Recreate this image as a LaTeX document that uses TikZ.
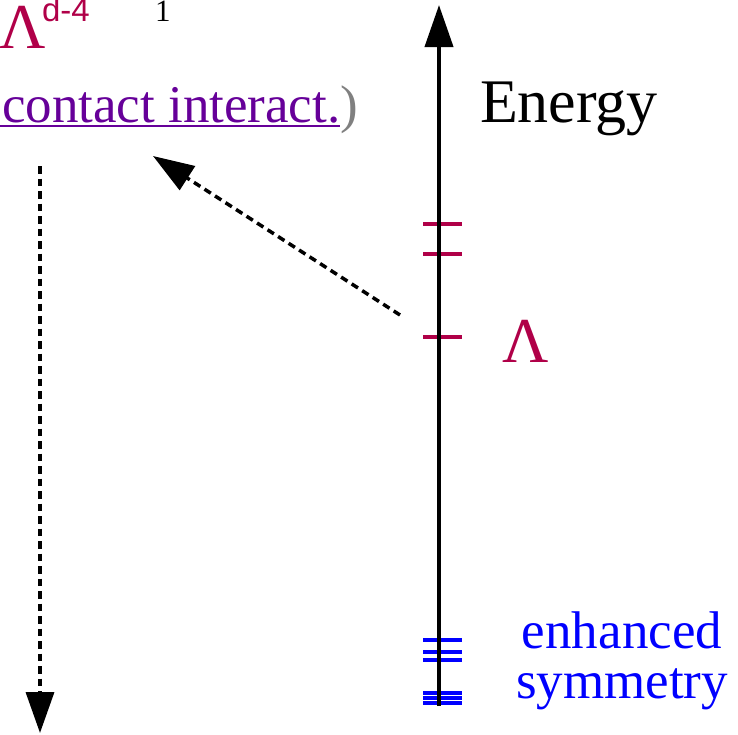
\documentclass[tikz,border=0pt]{standalone}
\usepackage{fontspec}
\setmainfont{Liberation Serif}
\setsansfont{Liberation Sans}
\usetikzlibrary{arrows.meta,calc}
\definecolor{crim}{RGB}{176,0,72}
\definecolor{lpurple}{RGB}{102,0,153}
\definecolor{pgray}{RGB}{128,128,128}
\definecolor{eblue}{RGB}{0,0,255}
\begin{document}
\begin{tikzpicture}[x=1pt,y=-1pt,
  txt/.style={inner sep=0pt,outer sep=0pt,anchor=base west},
  axisline/.style={line width=4pt,-{Triangle[length=42pt,width=28pt]}},
  dasharrow/.style={line width=3.5pt,dash pattern=on 7.5pt off 5pt,-{Triangle[length=41pt,width=28pt]}},
  redtick/.style={crim,line width=4pt},
  bluetick/.style={eblue,line width=3.5pt}]
\useasboundingbox (0,0) rectangle (738,734);
% top-left (partly cut) labels
\node[txt,font=\fontsize{64}{70}\selectfont,text=crim] (lamtop) at (-1,48) {Λ};
\node[txt,font=\sffamily\fontsize{33}{36}\selectfont,text=crim] (dminus) at (42,21) {d-4};
\node[txt,font=\fontsize{62}{70}\selectfont] (gsym) at (118,-13.5) {g};
\node[txt,font=\fontsize{31}{34}\selectfont] (subone) at (155,21) {1};
\node[txt,font=\fontsize{53}{60}\selectfont,text=lpurple] (ci) at (2,122) {contact interact.};
\node[txt,font=\fontsize{53}{60}\selectfont,text=pgray] (rparen) at (ci.base east) {)};
\draw[lpurple,line width=2.5pt] ($(ci.base west)+(-8,4)$) -- ($(ci.base east)+(0,4)$);
% right labels
\node[txt,font=\fontsize{62}{70}\selectfont] (energy) at (480,122) {Energy};
\node[txt,font=\fontsize{64}{70}\selectfont,text=crim] (lam) at (502,362) {Λ};
\node[inner sep=0pt,anchor=base,font=\fontsize{53}{60}\selectfont,text=eblue] (enh) at (622,648) {enhanced};
\node[inner sep=0pt,anchor=base,font=\fontsize{53}{60}\selectfont,text=eblue] (sym) at (622,698) {symmetry};
% ticks
\foreach \yy in {224,254,337} \draw[redtick] (423,\yy) -- (462,\yy);
\foreach \yy in {640,652,660,693,698,703} \draw[bluetick] (423,\yy) -- (462,\yy);
% axis
\coordinate (axbot) at (439,706);
\coordinate (axtop) at (439,5);
\draw[axisline] (axbot) -- (axtop);
% dashed arrows
\coordinate (dstart) at (400,315);
\coordinate (dend) at (153,156);
\draw[dasharrow] (dstart) -- (dend);
\coordinate (lstart) at (40,166);
\coordinate (lend) at (40,733);
\draw[dasharrow] (lstart) -- (lend);
\end{tikzpicture}
\end{document}
